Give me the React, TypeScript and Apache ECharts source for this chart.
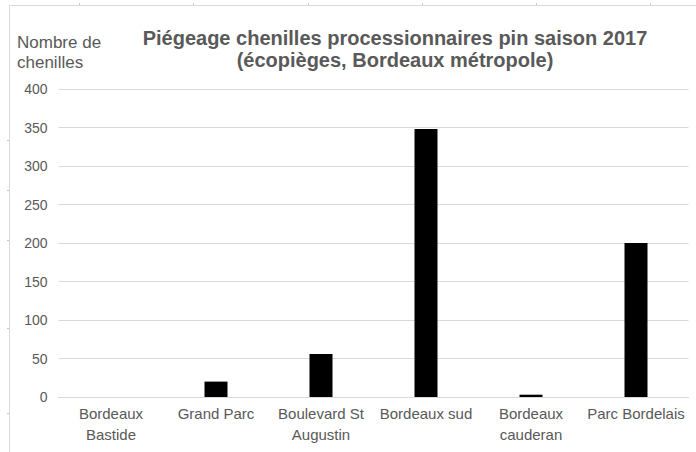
import React, { useEffect, useRef } from "react";
import * as echarts from "echarts";

const categories = [
  "Bordeaux\nBastide",
  "Grand Parc",
  "Boulevard St\nAugustin",
  "Bordeaux sud",
  "Bordeaux\ncauderan",
  "Parc Bordelais",
];
const trapCounts = [0, 20, 56, 348, 3, 200];
const yTicks = { min: 0, max: 400, interval: 50 };
const titleLines = [
  "Piégeage chenilles processionnaires pin saison 2017",
  "(écopièges, Bordeaux métropole)",
];
const yAxisTitle = "Nombre de\nchenilles";

const FONT = "'Liberation Sans', Arial, sans-serif";
const GREY_TEXT = "#595959";
const GRID_LINE = "#d9d9d9";

export default function App() {
  const ref = useRef<HTMLDivElement>(null);
  useEffect(() => {
    document.body.style.margin = "0";
    if (!ref.current) return;
    const chart = echarts.init(ref.current, undefined, { renderer: "svg" });
    const topTicks = [79, 193, 308, 422, 536, 650].map((x) => ({
      type: "line",
      shape: { x1: x + 0.5, y1: 3, x2: x + 0.5, y2: 5 },
      style: { stroke: "#c8c8c8", lineWidth: 1 },
      silent: true,
    }));
    const leftTicks = [140, 190, 240, 328, 413].map((y) => ({
      type: "line",
      shape: { x1: 7, y1: y + 0.5, x2: 9, y2: y + 0.5 },
      style: { stroke: "#c8c8c8", lineWidth: 1 },
      silent: true,
    }));
    chart.setOption({
      animation: false,
      backgroundColor: "#ffffff",
      title: {
        text: titleLines.join("\n"),
        left: 390,
        top: 22,
        textAlign: "center",
        textStyle: {
          fontFamily: FONT,
          fontSize: 20,
          fontWeight: "bold",
          color: GREY_TEXT,
          lineHeight: 22,
        },
      },
      graphic: [
        {
          type: "rect",
          shape: { x: 9.5, y: 5.5, width: 720, height: 480 },
          style: { fill: "none", stroke: GRID_LINE, lineWidth: 1 },
          silent: true,
        },
        ...topTicks,
        ...leftTicks,
        {
          type: "text",
          left: 17,
          top: 32,
          style: {
            text: yAxisTitle,
            fontFamily: FONT,
            fontSize: 17,
            fill: GREY_TEXT,
            lineHeight: 20,
            align: "left",
          },
          silent: true,
        },
      ],
      grid: { left: 58.5, right: 7.5, top: 89, bottom: 55, containLabel: false },
      xAxis: {
        type: "category",
        data: categories,
        axisLine: { show: true, lineStyle: { color: GRID_LINE, width: 1 } },
        axisTick: { show: false },
        axisLabel: {
          fontFamily: FONT,
          fontSize: 15,
          color: GREY_TEXT,
          lineHeight: 21,
          margin: 6,
          interval: 0,
        },
      },
      yAxis: {
        type: "value",
        min: yTicks.min,
        max: yTicks.max,
        interval: yTicks.interval,
        axisLine: { show: false },
        axisTick: { show: false },
        splitLine: { lineStyle: { color: GRID_LINE, width: 1 } },
        axisLabel: {
          fontFamily: FONT,
          fontSize: 14,
          color: GREY_TEXT,
          margin: 11,
        },
      },
      series: [
        {
          type: "bar",
          data: trapCounts,
          barWidth: 23,
          itemStyle: { color: "#000000" },
        },
      ],
    });
    return () => chart.dispose();
  }, []);
  return <div ref={ref} style={{ width: 696, height: 452 }} />;
}
